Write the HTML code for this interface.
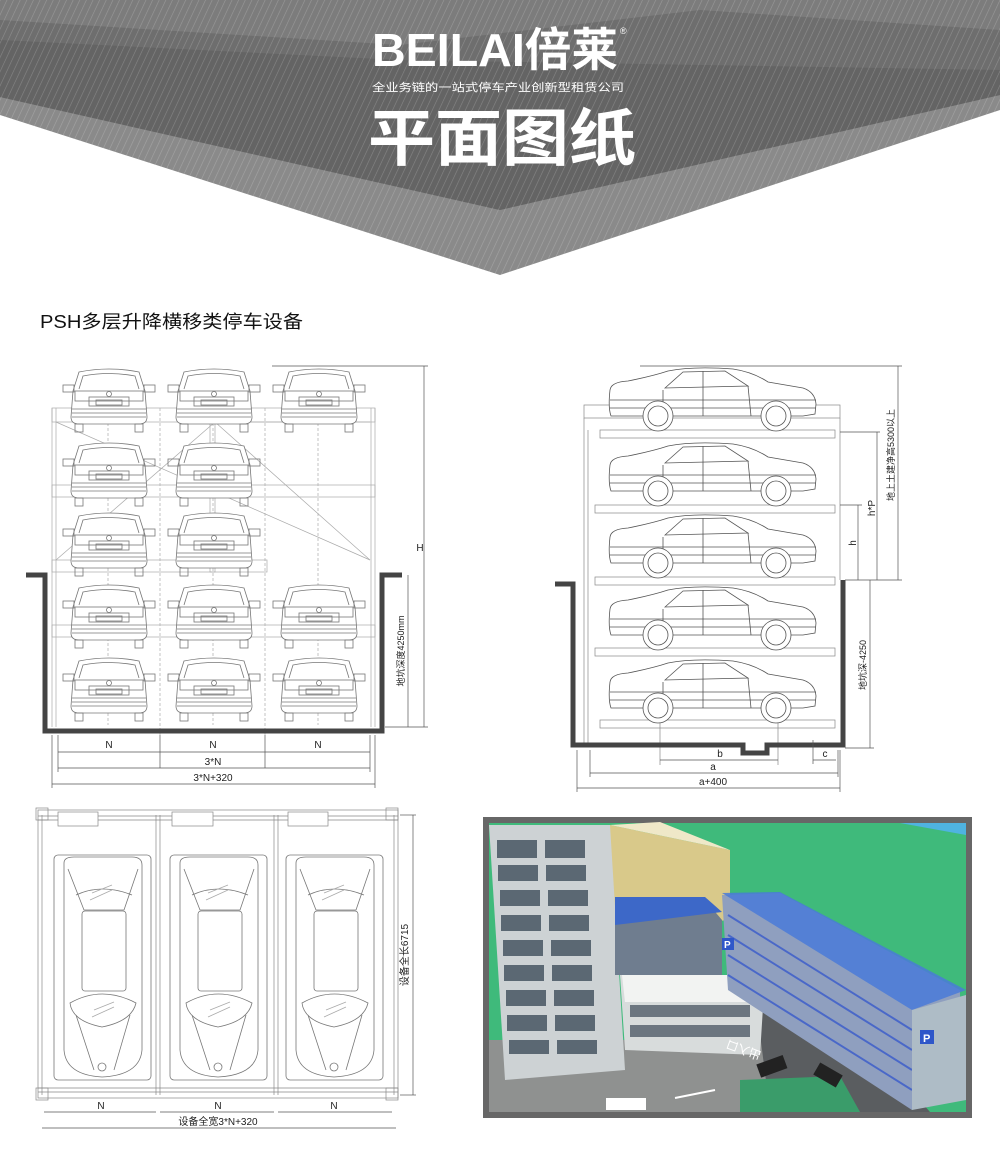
<!DOCTYPE html>
<html><head><meta charset="utf-8"><style>
html,body{margin:0;padding:0;background:#fff;width:1000px;height:1175px;overflow:hidden}
svg{display:block}
</style></head><body>
<svg width="1000" height="1175" viewBox="0 0 1000 1175" xmlns="http://www.w3.org/2000/svg" font-family="Liberation Sans, Noto Sans CJK SC, sans-serif">
<defs>
<pattern id="st" width="6" height="6" patternUnits="userSpaceOnUse" patternTransform="rotate(25)">
<rect width="6" height="6" fill="none"/><line x1="0" y1="0" x2="0" y2="6" stroke="#fff" stroke-opacity="0.22" stroke-width="1.2"/>
</pattern>
<g id="cf" fill="none" stroke="#777" stroke-width="0.8">
<path d="M10,24 L16,5 Q46,-1 76,5 L82,24 L84,50 Q84,57 76,57 L16,57 Q8,57 8,50 Z" fill="#fff"/>
<path d="M16,22 L20,9 Q46,4 72,9 L76,22"/>
<rect x="0" y="18" width="11" height="7"/><rect x="81" y="18" width="11" height="7"/>
<rect x="12" y="24" width="68" height="10"/>
<rect x="26" y="30" width="40" height="9"/><rect x="33" y="33" width="26" height="5"/>
<circle cx="46" cy="27" r="2.5"/>
<line x1="9" y1="42" x2="83" y2="42"/><line x1="9" y1="46" x2="83" y2="46"/><line x1="9" y1="50" x2="83" y2="50"/>
<rect x="12" y="57" width="8" height="8"/><rect x="72" y="57" width="8" height="8"/>
</g>
<g id="cs" fill="none" stroke="#555" stroke-width="0.8">
<path d="M2,22 Q3,14 20,13 Q45,8 60,3 Q85,-2 125,1 Q145,4 160,14 L195,20 Q207,24 208,36 L207,46 L195,48 L3,48 Q0,40 2,22 Z" fill="#fff"/>
<path d="M57,20 L75,4 L117,3 L140,18 Z"/><line x1="95" y1="3" x2="95" y2="48"/><line x1="140" y1="18" x2="143" y2="48"/>
<line x1="55" y1="22" x2="55" y2="48"/><line x1="2" y1="32" x2="208" y2="32"/><line x1="2" y1="40" x2="208" y2="40"/>
<circle cx="50" cy="48" r="15" fill="#fff"/><circle cx="50" cy="48" r="10"/>
<circle cx="168" cy="48" r="15" fill="#fff"/><circle cx="168" cy="48" r="10"/>
</g>
<g id="ct" fill="none" stroke="#777" stroke-width="0.8">
<rect x="0" y="0" width="97" height="225" rx="4"/>
<path d="M10,8 Q10,2 20,2 L78,2 Q88,2 88,10 L88,195 Q86,220 48,222 Q12,220 10,195 Z" fill="#fff"/>
<path d="M14,14 L30,55 L70,55 L84,14"/>
<path d="M22,40 Q48,28 78,40"/>
<rect x="28" y="56" width="44" height="80" rx="3"/>
<path d="M16,148 Q48,130 82,148 Q78,166 48,172 Q18,166 16,148 Z"/>
<path d="M22,160 L40,215 M76,160 L60,215"/>
<circle cx="48" cy="212" r="4"/>
<path d="M38,38 l20,-8 M36,45 l22,-10 M40,155 l20,-8 M38,162 l22,-10" stroke="#aaa"/>
</g>
</defs>

<!-- HEADER -->
<polygon points="0,0 1000,0 1000,110 500,275 0,115" fill="#8a8a8a"/>
<polygon points="0,0 1000,0 1000,95 500,210 0,97" fill="#6e6e6e"/>
<polygon points="0,0 1000,0 1000,30 700,10 400,45 0,20" fill="#7c7c7c"/>
<polygon points="0,40 400,60 1000,70 1000,95 500,210 0,97" fill="#646464"/>
<polygon points="0,0 1000,0 1000,110 500,275 0,115" fill="url(#st)"/>
<text x="372" y="66" font-size="46" font-weight="bold" fill="#fff" textLength="246" lengthAdjust="spacingAndGlyphs">BEILAI倍莱</text>
<text x="620" y="34" font-size="9" fill="#fff">®</text>
<text x="372" y="91" font-size="11" fill="#fff" textLength="252" lengthAdjust="spacingAndGlyphs">全业务链的一站式停车产业创新型租赁公司</text>
<text x="368" y="160" font-size="62" font-weight="bold" fill="#fff" textLength="268" lengthAdjust="spacingAndGlyphs">平面图纸</text>

<text x="40" y="328" font-size="18" fill="#111" textLength="263" lengthAdjust="spacingAndGlyphs">PSH多层升降横移类停车设备</text>

<!-- FRONT VIEW -->
<g stroke="#aaa" stroke-width="0.7" fill="none">
<line x1="52" y1="408" x2="52" y2="727"/><line x1="56" y1="408" x2="56" y2="727"/>
<line x1="371" y1="408" x2="371" y2="727"/><line x1="375" y1="408" x2="375" y2="727"/>
<line x1="160" y1="408" x2="160" y2="735" stroke-dasharray="3,2"/><line x1="265" y1="408" x2="265" y2="735" stroke-dasharray="3,2"/>
<rect x="52" y="408" width="323" height="14"/><rect x="52" y="485" width="323" height="12"/>
<rect x="52" y="560" width="215" height="12"/><rect x="52" y="625" width="323" height="12"/>
<line x1="56" y1="422" x2="370" y2="560"/><line x1="56" y1="560" x2="215" y2="422"/>
<line x1="215" y1="422" x2="370" y2="560"/><line x1="215" y1="422" x2="370" y2="422"/>
<line x1="108" y1="408" x2="108" y2="725" stroke-dasharray="3,2"/><line x1="213" y1="408" x2="213" y2="725" stroke-dasharray="3,2"/><line x1="318" y1="408" x2="318" y2="725" stroke-dasharray="3,2"/>
<rect x="210" y="397" width="5" height="175"/>
</g>
<use href="#cf" x="63" y="367"/><use href="#cf" x="168" y="367"/><use href="#cf" x="273" y="367"/>
<use href="#cf" x="63" y="441"/><use href="#cf" x="168" y="441"/>
<use href="#cf" x="63" y="511"/><use href="#cf" x="168" y="511"/>
<use href="#cf" x="63" y="583"/><use href="#cf" x="168" y="583"/><use href="#cf" x="273" y="583"/>
<use href="#cf" x="63" y="656"/><use href="#cf" x="168" y="656"/><use href="#cf" x="273" y="656"/>
<path d="M26,575 L45,575 L45,731 L382,731 L382,575 L402,575" fill="none" stroke="#444" stroke-width="5"/>
<g stroke="#555" stroke-width="0.7" fill="none">
<line x1="272" y1="366" x2="428" y2="366"/>
<line x1="424" y1="366" x2="424" y2="727"/><line x1="408" y1="575" x2="408" y2="727"/>
<line x1="385" y1="727" x2="428" y2="727"/>
<line x1="58" y1="752" x2="370" y2="752"/><line x1="58" y1="768" x2="370" y2="768"/><line x1="52" y1="784" x2="375" y2="784"/>
<line x1="58" y1="735" x2="58" y2="772"/><line x1="160" y1="735" x2="160" y2="768"/><line x1="265" y1="735" x2="265" y2="768"/><line x1="370" y1="735" x2="370" y2="772"/>
<line x1="52" y1="735" x2="52" y2="788"/><line x1="375" y1="735" x2="375" y2="788"/>
</g>
<g font-size="10" fill="#222" text-anchor="middle">
<text x="109" y="748">N</text><text x="213" y="748">N</text><text x="318" y="748">N</text>
<text x="213" y="765">3*N</text><text x="213" y="781">3*N+320</text>
<text x="420" y="551">H</text>
<text transform="translate(404,651) rotate(-90)" font-size="9">地坑深度4250mm</text>
</g>

<!-- SIDE VIEW -->
<g stroke="#888" stroke-width="0.7" fill="none">
<line x1="584" y1="418" x2="584" y2="745"/><line x1="588" y1="430" x2="588" y2="745"/>
<line x1="840" y1="418" x2="840" y2="580"/>
<rect x="584" y="405" width="256" height="13"/>
<rect x="600" y="430" width="235" height="8"/><rect x="595" y="505" width="240" height="8"/>
<rect x="595" y="577" width="240" height="8"/><rect x="595" y="648" width="240" height="8"/>
<rect x="600" y="720" width="235" height="8"/>
<line x1="660" y1="720" x2="660" y2="765"/><line x1="778" y1="720" x2="778" y2="765"/>
</g>
<use href="#cs" x="608" y="368"/><use href="#cs" x="608" y="443"/><use href="#cs" x="608" y="515"/>
<use href="#cs" x="608" y="587"/><use href="#cs" x="608" y="660"/>
<path d="M555,584 L573,584 L573,745 L743,745 L743,753 L767,753 L767,745 L843,745 L843,580" fill="none" stroke="#444" stroke-width="5"/>
<g stroke="#555" stroke-width="0.7" fill="none">
<line x1="640" y1="366" x2="902" y2="366"/>
<line x1="858" y1="505" x2="858" y2="580"/><line x1="877" y1="432" x2="877" y2="580"/><line x1="898" y1="366" x2="898" y2="580"/>
<line x1="845" y1="580" x2="902" y2="580"/><line x1="870" y1="580" x2="870" y2="748"/><line x1="845" y1="748" x2="874" y2="748"/>
<line x1="840" y1="505" x2="862" y2="505"/><line x1="840" y1="432" x2="880" y2="432"/>
<line x1="660" y1="760" x2="778" y2="760"/><line x1="813" y1="760" x2="836" y2="760"/>
<line x1="590" y1="773" x2="838" y2="773"/><line x1="577" y1="788" x2="840" y2="788"/>
<line x1="590" y1="750" x2="590" y2="777"/><line x1="838" y1="750" x2="838" y2="777"/><line x1="813" y1="740" x2="813" y2="764"/>
<line x1="577" y1="750" x2="577" y2="792"/><line x1="840" y1="750" x2="840" y2="792"/>
</g>
<g font-size="10" fill="#222" text-anchor="middle">
<text x="720" y="757">b</text><text x="825" y="757">c</text><text x="713" y="770">a</text><text x="713" y="785">a+400</text>
<text transform="translate(856,543) rotate(-90)">h</text>
<text transform="translate(875,508) rotate(-90)">h*P</text>
<text transform="translate(894,455) rotate(-90)" font-size="9">地上土建净高5300以上</text>
<text transform="translate(866,665) rotate(-90)" font-size="9">地坑深-4250</text>
</g>

<!-- PLAN VIEW -->
<g stroke="#888" stroke-width="0.7" fill="none">
<rect x="38" y="810" width="360" height="288"/>
<line x1="42" y1="815" x2="42" y2="1095"/><line x1="394" y1="815" x2="394" y2="1095"/>
<line x1="156" y1="815" x2="156" y2="1095"/><line x1="160" y1="815" x2="160" y2="1095"/>
<line x1="274" y1="815" x2="274" y2="1095"/><line x1="278" y1="815" x2="278" y2="1095"/>
<line x1="38" y1="816" x2="398" y2="816"/><line x1="38" y1="820" x2="398" y2="820"/>
<line x1="38" y1="1088" x2="398" y2="1088"/><line x1="38" y1="1092" x2="398" y2="1092"/>
<rect x="36" y="808" width="12" height="12"/><rect x="386" y="808" width="12" height="12"/>
<rect x="36" y="1088" width="12" height="12"/><rect x="386" y="1088" width="12" height="12"/>
<rect x="58" y="812" width="40" height="14" fill="#fff"/><rect x="172" y="812" width="41" height="14" fill="#fff"/><rect x="288" y="812" width="40" height="14" fill="#fff"/>
</g>
<use href="#ct" x="54" y="855"/><use href="#ct" x="170" y="855"/><use href="#ct" x="286" y="855"/>
<g stroke="#555" stroke-width="0.7" fill="none">
<line x1="44" y1="1112" x2="156" y2="1112"/><line x1="160" y1="1112" x2="274" y2="1112"/><line x1="278" y1="1112" x2="392" y2="1112"/>
<line x1="42" y1="1128" x2="396" y2="1128"/><line x1="413" y1="815" x2="413" y2="1095"/>
<line x1="400" y1="815" x2="416" y2="815"/><line x1="400" y1="1095" x2="416" y2="1095"/>
</g>
<g font-size="10" fill="#222" text-anchor="middle">
<text x="101" y="1109">N</text><text x="218" y="1109">N</text><text x="334" y="1109">N</text>
<text x="218" y="1125">设备全宽3*N+320</text>
<text transform="translate(408,955) rotate(-90)">设备全长6715</text>
</g>

<!-- PHOTO -->
<rect x="483" y="817" width="489" height="301" fill="#676767"/>
<rect x="489" y="823" width="477" height="289" fill="#3fba7b"/>
<polygon points="900,823 966,823 966,835" fill="#4fb3e0"/>
<polygon points="489,1040 760,1040 830,1112 489,1112" fill="#8f9190"/>
<polygon points="755,995 825,990 930,1112 770,1112" fill="#5a5d60"/>
<polygon points="740,1080 840,1076 860,1112 740,1112" fill="#3a9c6a"/>
<polygon points="610,825 730,850 730,920 610,930" fill="#d9c98a"/>
<polygon points="610,825 660,822 730,850" fill="#efe8c8"/>
<polygon points="489,825 610,825 625,1070 505,1080" fill="#cdd2d4"/>
<g fill="#5b6873">
<rect x="497" y="840" width="40" height="18"/><rect x="545" y="840" width="40" height="18"/>
<rect x="500" y="890" width="40" height="16"/><rect x="548" y="890" width="40" height="16"/>
<rect x="503" y="940" width="40" height="16"/><rect x="551" y="940" width="40" height="16"/>
<rect x="506" y="990" width="40" height="16"/><rect x="554" y="990" width="40" height="16"/>
<rect x="509" y="1040" width="40" height="14"/><rect x="557" y="1040" width="40" height="14"/>
<rect x="498" y="865" width="40" height="16"/><rect x="546" y="865" width="40" height="16"/>
<rect x="501" y="915" width="40" height="16"/><rect x="549" y="915" width="40" height="16"/>
<rect x="504" y="965" width="40" height="16"/><rect x="552" y="965" width="40" height="16"/>
<rect x="507" y="1015" width="40" height="16"/><rect x="555" y="1015" width="40" height="16"/>
</g>
<polygon points="615,900 705,900 722,920 722,975 615,975" fill="#6f7d8f"/>
<polygon points="615,897 705,897 722,912 615,925" fill="#3d68c8"/>
<polygon points="620,975 765,975 760,1055 625,1050" fill="#d8dcdc"/>
<polygon points="622,975 765,975 760,1002 625,1002" fill="#f2f3f2"/>
<g fill="#6c7680"><rect x="630" y="1005" width="120" height="12"/><rect x="630" y="1025" width="120" height="12"/></g>
<polygon points="722,895 780,893 960,990 960,1010 912,1110 728,990" fill="#8f9fbf"/>
<polygon points="722,893 780,892 966,990 912,1010" fill="#4a7ad8" fill-opacity="0.85"/>
<g stroke="#4a68c8" stroke-width="2">
<line x1="728" y1="915" x2="912" y2="1030"/><line x1="728" y1="935" x2="912" y2="1050"/>
<line x1="728" y1="955" x2="912" y2="1070"/><line x1="728" y1="975" x2="912" y2="1090"/>
</g>
<polygon points="912,1010 966,995 966,1100 912,1110" fill="#aebcc6"/>
<rect x="920" y="1030" width="14" height="14" fill="#2f57c9"/><text x="923" y="1042" font-size="11" fill="#fff" font-weight="bold">P</text>
<rect x="722" y="938" width="12" height="12" fill="#2f57c9"/><text x="724" y="948" font-size="10" fill="#fff" font-weight="bold">P</text>
<text transform="translate(762,1052) rotate(200)" font-size="12" fill="#fff">出入口</text>
<rect x="758" y="1060" width="28" height="14" fill="#222" transform="rotate(-20 770 1067)"/>
<rect x="815" y="1068" width="26" height="14" fill="#222" transform="rotate(30 828 1075)"/>
<rect x="606" y="1098" width="40" height="12" fill="#fff"/>
<line x1="675" y1="1098" x2="715" y2="1090" stroke="#fff" stroke-width="2"/>
</svg>
</body></html>
